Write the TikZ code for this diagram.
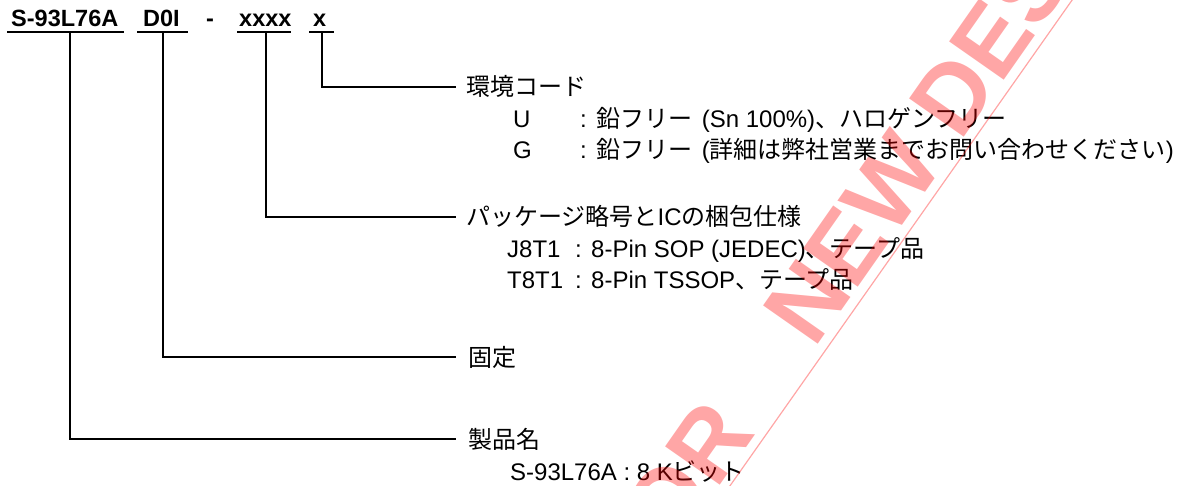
\documentclass[tikz,border=0pt]{standalone}
\usepackage{fontspec}
\setmainfont{Liberation Sans}
\newfontfamily\jp{Noto Sans CJK JP}
\begin{document}
\begin{tikzpicture}[x=1pt,y=-1pt,
  txt/.style={inner sep=0pt, anchor=base west, font=\fontsize{24}{28}\selectfont},
  ttl/.style={inner sep=0pt, anchor=base west, font=\fontsize{23.5}{28}\selectfont\bfseries},
  conn/.style={line width=1.7pt},
  uline/.style={line width=2pt},
  wm/.style={inner sep=0pt, text=red, text opacity=0.35, font=\fontsize{97}{97}\selectfont\bfseries, rotate=55},
  wmline/.style={draw=red, draw opacity=0.35, line width=1.2pt}]
\useasboundingbox (0,0) rectangle (1191,486);
\fill[white] (0,0) rectangle (1191,486);

% title
\node[ttl] (pn) at (11,27) {S-93L76A};
\node[ttl] (fx) at (143,27) {D0I};
\node[ttl] (dash) at (206,27) {-};
\node[ttl] (pk) at (239,27) {xxxx};
\node[ttl] (ev) at (313,27) {x};
\draw[uline] (7,32.5) -- (124,32.5);
\draw[uline] (137,32.5) -- (188,32.5);
\draw[uline] (237,32.5) -- (291,32.5);
\draw[uline] (309,32.5) -- (334,32.5);

\coordinate (pnT) at (70,33);
\coordinate (fxT) at (163,33);
\coordinate (pkT) at (266,33);
\coordinate (evT) at (322,33);

\coordinate (evE) at (456,87);
\coordinate (pkE) at (456,217);
\coordinate (fxE) at (456,357);
\coordinate (pnE) at (456,439);

% environment code
\node[txt] (evH) at (466,96) {\jp 環境コード};
\node[txt] (evU) at (513,128) {U};
\node[txt] (evUc) at (580,128) {:};
\node[txt] (evUt) at (596,128) {{\jp 鉛フリー}\hspace{3pt} (Sn 100\%){\jp 、ハロゲンフリー}};
\node[txt] (evG) at (513,159) {G};
\node[txt] (evGc) at (580,159) {:};
\node[txt] (evGt) at (596,159) {{\jp 鉛フリー}\hspace{3pt} ({\jp 詳細は弊社営業までお問い合わせください})};

% package
\node[txt] (pkH) at (466,226) {{\jp パッケージ略号と}IC{\jp の梱包仕様}};
\node[txt] (pkJ) at (507,258) {J8T1};
\node[txt] (pkJc) at (575,258) {:};
\node[txt] (pkJt) at (591,258) {8-Pin SOP (JEDEC){\jp 、テープ品}};
\node[txt] (pkT1) at (507,289) {T8T1};
\node[txt] (pkTc) at (575,289) {:};
\node[txt] (pkTt) at (591,289) {8-Pin TSSOP{\jp 、テープ品}};

% fixed
\node[txt] (fxH) at (468,366) {\jp 固定};

% product name
\node[txt] (pnH) at (468,448) {\jp 製品名};
\node[txt] (pnS) at (510,480) {S-93L76A : 8 K{\jp ビット}};

% connectors
\draw[conn] (evT) |- (evE);
\draw[conn] (pkT) |- (pkE);
\draw[conn] (fxT) |- (fxE);
\draw[conn] (pnT) |- (pnE);

% watermark
\begin{scope}
\clip (0,0) rectangle (1191,486);
\node[wm, anchor=base east] (wmk1) at (756.6,432.6) {NOT RECOMMENDED FOR};
\node[wm, anchor=base west] (wmk2) at (814.7,350.0) {NEW DESIGN};
\coordinate (wmA) at (720,500);
\coordinate (wmB) at (1082,-14);
\draw[wmline] (wmA) -- (wmB);
\end{scope}
\end{tikzpicture}
\end{document}
